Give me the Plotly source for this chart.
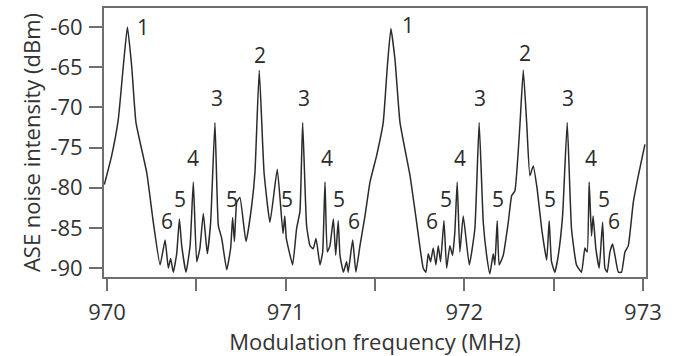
import plotly.graph_objects as go

freq = [969.985, 970.026, 970.063, 970.091, 970.114, 970.138, 970.162, 970.222, 970.259, 970.297,
        970.325, 970.343, 970.356, 970.371, 970.39, 970.405, 970.418, 970.442, 970.465, 970.483,
        970.502, 970.52, 970.539, 970.561, 970.58, 970.604, 970.623, 970.642, 970.67, 970.692,
        970.703, 970.713, 970.726, 970.744, 970.778, 970.81, 970.828, 970.852, 970.879, 970.912,
        970.953, 970.985, 970.995, 971.003, 971.015, 971.039, 971.061, 971.08, 971.095, 971.117,
        971.136, 971.154, 971.17, 971.192, 971.207, 971.22, 971.233, 971.248, 971.267, 971.28,
        971.294, 971.304, 971.323, 971.341, 971.35, 971.375, 971.393, 971.416, 971.444, 971.472,
        971.509, 971.546, 971.569, 971.589, 971.612, 971.64, 971.696, 971.733, 971.77, 971.785,
        971.798, 971.811, 971.826, 971.841, 971.854, 971.867, 971.886, 971.901, 971.919, 971.934,
        971.947, 971.96, 971.975, 971.994, 972.028, 972.059, 972.083, 972.106, 972.125, 972.143,
        972.162, 972.171, 972.184, 972.195, 972.218, 972.246, 972.265, 972.283, 972.311, 972.33,
        972.349, 972.367, 972.386, 972.408, 972.433, 972.461, 972.475, 972.488, 972.507, 972.526,
        972.55, 972.576, 972.6, 972.628, 972.656, 972.675, 972.688, 972.699, 972.712, 972.721,
        972.736, 972.755, 972.774, 972.787, 972.8, 972.815, 972.83, 972.843, 972.862, 972.88,
        972.899, 972.918, 972.946, 972.974, 973.011]

level = [-79.6, -76.0, -71.5, -64.9, -60.0, -64.9, -71.9, -78.1, -84.3, -89.6,
         -86.5, -90.0, -88.8, -90.5, -88.2, -83.9, -87.2, -90.5, -87.2, -79.3,
         -89.2, -87.5, -83.2, -88.2, -84.3, -71.9, -84.7, -86.3, -90.2, -87.5,
         -83.7, -86.7, -81.8, -81.2, -86.7, -82.2, -78.1, -65.4, -78.1, -84.3,
         -77.7, -85.7, -83.5, -86.2, -87.5, -89.6, -85.1, -82.9, -71.9, -84.7,
         -87.2, -87.6, -86.3, -89.6, -88.0, -79.3, -88.0, -87.2, -83.9, -88.4,
         -84.1, -88.4, -90.5, -89.2, -90.5, -86.5, -90.5, -87.2, -83.5, -79.3,
         -76.0, -71.9, -64.9, -60.2, -64.1, -71.9, -78.5, -84.3, -90.0, -90.5,
         -88.2, -89.2, -87.5, -89.6, -87.2, -89.2, -84.1, -90.0, -87.2, -88.4,
         -85.5, -79.3, -88.0, -83.5, -89.6, -85.1, -71.9, -84.3, -88.4, -90.7,
         -88.2, -89.6, -84.1, -89.6, -88.4, -84.3, -81.0, -80.4, -72.3, -65.4,
         -71.9, -78.5, -77.3, -80.2, -85.1, -89.0, -84.1, -89.2, -90.5, -88.4,
         -83.5, -71.9, -85.1, -89.6, -90.5, -87.5, -88.0, -79.3, -86.0, -83.5,
         -87.5, -90.0, -84.3, -90.0, -90.5, -88.0, -87.0, -88.4, -90.5, -90.5,
         -88.0, -87.2, -81.8, -78.5, -74.6]

label_text = ["1", "2", "3", "3", "4", "4", "6", "5", "5", "5",
              "1", "2", "3", "3", "4", "4", "5", "6", "6", "5", "5", "5", "5", "6"]
label_x = [970.20, 970.856, 970.615, 971.10, 970.48, 971.23, 970.335, 970.41, 970.70, 971.01,
           971.685, 972.34, 972.087, 972.58, 971.975, 972.71, 971.30, 971.38, 971.82, 971.90,
           972.19, 972.48, 972.78, 972.84]
label_y = [-60.0, -63.5, -68.9, -68.9, -76.3, -76.3, -84.1, -81.4, -81.4, -81.4,
           -59.8, -63.3, -68.9, -68.9, -76.3, -76.3, -81.4, -84.1, -84.1, -81.4,
           -81.4, -81.4, -81.4, -84.1]

x_ticks = [970, 971, 972, 973]
x_minor = [970.5, 971.5, 972.5]
y_ticks = [-60, -65, -70, -75, -80, -85, -90]

FONT = "Open Sans"
AXC = "#6e6e6e"

fig = go.Figure()
fig.add_trace(go.Scatter(x=freq, y=level, mode="lines",
                         line=dict(color="#2b2b2b", width=1.5, shape="spline", smoothing=0.4),
                         showlegend=False))

for t, x, y in zip(label_text, label_x, label_y):
    fig.add_annotation(x=x, y=y, text=t, showarrow=False,
                       font=dict(family=FONT, size=21, color="#2b2b2b"))

fig.update_layout(
    width=677, height=356,
    margin=dict(l=104, r=31, t=6, b=79),
    paper_bgcolor="white", plot_bgcolor="white",
    font=dict(family=FONT, size=21, color="#333333"),
)
fig.update_xaxes(
    range=[969.983, 973.017], tickvals=x_ticks, ticktext=[str(v) for v in x_ticks],
    showgrid=False, zeroline=False, showline=True, linecolor=AXC, linewidth=2, mirror=True,
    ticks="outside", ticklen=12, tickwidth=2, tickcolor=AXC, ticklabelstandoff=3,
    minor=dict(tickvals=x_minor, ticks="outside", ticklen=12, tickwidth=2, tickcolor=AXC, showgrid=False),
    title=dict(text="Modulation frequency (MHz)", font=dict(size=22), standoff=5),
    tickfont=dict(size=22),
)
fig.update_yaxes(
    range=[-91.1, -57.65], tickvals=y_ticks, ticktext=[str(v) for v in y_ticks],
    showgrid=False, zeroline=False, showline=True, linecolor=AXC, linewidth=2, mirror=True,
    ticks="outside", ticklen=13, tickwidth=2, tickcolor=AXC, ticklabelstandoff=2,
    title=dict(text="ASE noise intensity (dBm)", font=dict(size=22), standoff=4),
    tickfont=dict(size=22),
)

fig.write_html("out.html")
